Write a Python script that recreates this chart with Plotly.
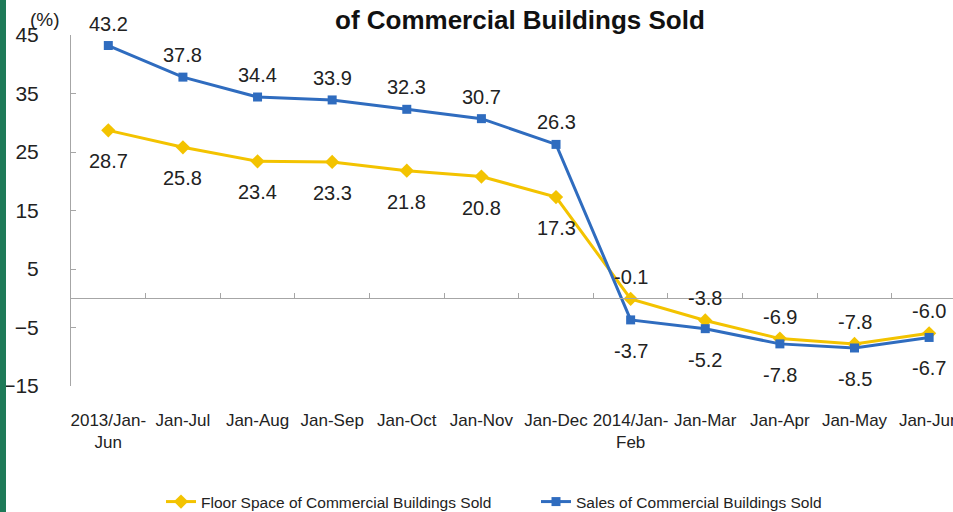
import numpy as np
import plotly.graph_objects as go

# Growth rates (%) of commercial buildings sold, year-to-date
periods = ["2013/Jan-<br>Jun", "Jan-Jul", "Jan-Aug", "Jan-Sep", "Jan-Oct", "Jan-Nov",
           "Jan-Dec", "2014/Jan-<br>Feb", "Jan-Mar", "Jan-Apr", "Jan-May", "Jan-Jun"]
floor_space = [28.7, 25.8, 23.4, 23.3, 21.8, 20.8, 17.3, -0.1, -3.8, -6.9, -7.8, -6.0]
sales = [43.2, 37.8, 34.4, 33.9, 32.3, 30.7, 26.3, -3.7, -5.2, -7.8, -8.5, -6.7]
y_ticks = [-15, -5, 5, 15, 25, 35, 45]

YELLOW = "#F3C300"
BLUE = "#2F6CBF"
AXIS = "#A6A6A6"
TEXT = "#222222"
FONT = "Liberation Sans, Arial, sans-serif"

W, H = 953, 512
ML, MR, MT, MB = 71, 0, 35, 126
x_idx = list(range(len(periods)))
x_range = [-0.5, 11.32]

fig = go.Figure()
fig.add_trace(go.Scatter(
    x=x_idx, y=floor_space, name="Floor Space of Commercial Buildings Sold",
    mode="lines+markers", line=dict(color=YELLOW, width=3),
    marker=dict(symbol="diamond", size=11, color=YELLOW),
))
fig.add_trace(go.Scatter(
    x=x_idx, y=sales, name="Sales of Commercial Buildings Sold",
    mode="lines+markers", line=dict(color=BLUE, width=3),
    marker=dict(symbol="square", size=9, color=BLUE),
))

# Value labels: the higher series gets its label above, the lower one below
annotations = []
for i, (f, s) in enumerate(zip(floor_space, sales)):
    for v, other in ((f, s), (s, f)):
        annotations.append(dict(
            x=i, y=v, xref="x", yref="y", text=f"{v:.1f}", showarrow=False,
            yanchor="middle", yshift=22 if v >= other else -31,
            font=dict(family=FONT, size=20, color=TEXT),
        ))

annotations.append(dict(
    text="(%)", xref="paper", yref="paper",
    x=-26 / (W - ML - MR), y=1 + 16 / (H - MT - MB),
    xanchor="center", yanchor="middle", showarrow=False,
    font=dict(family=FONT, size=19, color=TEXT),
))
annotations.append(dict(
    text="<b>of Commercial Buildings Sold</b>", xref="paper", yref="paper",
    x=(520 - ML) / (W - ML - MR), y=1 + 15 / (H - MT - MB),
    xanchor="center", yanchor="middle", showarrow=False,
    font=dict(family=FONT, size=26, color="#111111"),
))

fig.update_layout(
    width=W, height=H,
    margin=dict(l=ML, r=MR, t=MT, b=MB, autoexpand=False),
    paper_bgcolor="white", plot_bgcolor="white",
    showlegend=True,
    legend=dict(
        orientation="h", xref="container", yref="container",
        x=161 / W, y=10 / H, xanchor="left", yanchor="middle",
        font=dict(family=FONT, size=15.5, color=TEXT),
        entrywidth=330, bgcolor="rgba(0,0,0,0)",
    ),
    annotations=annotations,
    xaxis=dict(
        range=x_range, tickmode="array", tickvals=x_idx, ticktext=periods,
        showline=False, showgrid=False, zeroline=False, ticks="",
        ticklabelstandoff=22, ticklabeloverflow="allow", automargin=False,
        tickfont=dict(family=FONT, size=17, color=TEXT),
    ),
    # Horizontal axis line drawn along y = 0, ticks between categories
    xaxis2=dict(
        overlaying="x", anchor="free",
        position=(0 - y_ticks[0]) / (y_ticks[-1] - y_ticks[0]),
        range=x_range, tickmode="array",
        tickvals=list(np.arange(len(periods) + 1) - 0.5),
        showticklabels=False, showline=True, linecolor=AXIS, linewidth=1,
        ticks="inside", ticklen=5, tickcolor=AXIS, showgrid=False, zeroline=False,
        automargin=False,
    ),
    yaxis=dict(
        range=[y_ticks[0], y_ticks[-1]], tickmode="array", tickvals=y_ticks,
        showline=True, linecolor=AXIS, linewidth=1,
        ticks="inside", ticklen=5, tickcolor=AXIS,
        showgrid=False, zeroline=False, ticklabelstandoff=27, automargin=False,
        tickfont=dict(family=FONT, size=21, color=TEXT),
    ),
    shapes=[dict(
        type="rect", xref="paper", yref="paper",
        x0=-ML / (W - ML - MR), x1=(6 - ML) / (W - ML - MR), y0=-2, y1=2,
        fillcolor="#1E7A58", line=dict(width=0), layer="above",
    )],
)

# dummy trace to activate the secondary x axis
fig.add_trace(go.Scatter(x=[None], y=[None], xaxis="x2", showlegend=False, hoverinfo="skip"))

fig.write_html("out.html")
